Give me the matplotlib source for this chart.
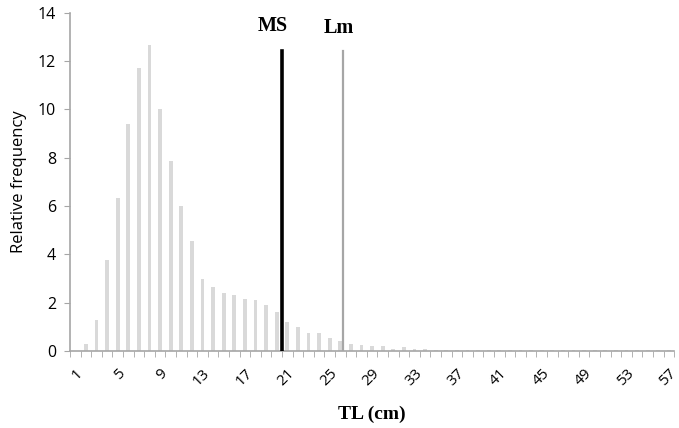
import numpy as np
import matplotlib.pyplot as plt
from matplotlib.ticker import FixedLocator

# TL classes (cm) and relative frequency (%)
tl_classes = np.arange(1, 58)
rel_freq = [0.0, 0.3, 1.3, 3.75, 6.35, 9.4, 11.7, 12.65, 10.0, 7.85,
            6.0, 4.55, 3.0, 2.65, 2.4, 2.3, 2.15, 2.1, 1.9, 1.6,
            1.2, 1.0, 0.75, 0.75, 0.55, 0.4, 0.3, 0.25, 0.2, 0.2,
            0.1, 0.15, 0.08, 0.08, 0.05, 0.05, 0.05, 0.05, 0.03, 0.03,
            0.03, 0.03, 0.02, 0.02, 0.02, 0.02, 0.02, 0.02, 0.02, 0.02,
            0.02, 0.02, 0.02, 0.02, 0.02, 0.02, 0.02]
tick_labels = [str(v) for v in range(1, 58, 4)]

# reference lines
ms_pos, lm_pos = 20.5, 26.3
line_top = 12.4

fig = plt.figure(figsize=(6.79, 4.28), dpi=100)
ax = fig.add_axes([0.103, 0.18, 0.89, 0.79])

ax.bar(tl_classes, rel_freq, width=0.35, color='#d9d9d9', zorder=1)

ax.plot([ms_pos, ms_pos], [0, line_top], color='black', linewidth=2.6, zorder=3)
ax.plot([lm_pos, lm_pos], [0, line_top], color='#a6a6a6', linewidth=1.6, zorder=3)
ax.text(ms_pos - 0.85, 13.05, 'MS', fontfamily='Liberation Serif', fontweight='bold',
        fontsize=14.5, ha='center', va='bottom')
ax.text(lm_pos - 0.4, 12.95, 'Lm', fontfamily='Liberation Serif', fontweight='bold',
        fontsize=14.5, ha='center', va='bottom')

ax.set_xlim(0.5, 57.5)
ax.set_ylim(0, 14)
ax.set_yticks(np.arange(0, 15, 2))

ax.set_xticks(list(range(1, 58, 4)))
ax.set_xticklabels(tick_labels, rotation=45, ha='right', rotation_mode='anchor',
                   fontfamily='Open Sans', fontsize=11)
ax.tick_params(axis='x', length=0, pad=11)
ax.xaxis.set_minor_locator(FixedLocator(np.arange(0.5, 58, 1)))
ax.tick_params(axis='x', which='minor', length=4, color='#a6a6a6', direction='out')
ax.tick_params(axis='y', length=4, color='#a6a6a6', labelsize=11.5, pad=6)
for lab in ax.get_yticklabels():
    lab.set_fontfamily('Open Sans')

for s in ['top', 'right']:
    ax.spines[s].set_visible(False)
for s in ['left', 'bottom']:
    ax.spines[s].set_color('#a6a6a6')
    ax.spines[s].set_linewidth(1.2)

ax.set_ylabel('Relative frequency', fontfamily='Open Sans', fontsize=12, labelpad=8)
ax.set_xlabel('TL (cm)', fontfamily='Liberation Serif', fontweight='bold', fontsize=14,
              labelpad=12)

fig.savefig('out.png', dpi=100)
